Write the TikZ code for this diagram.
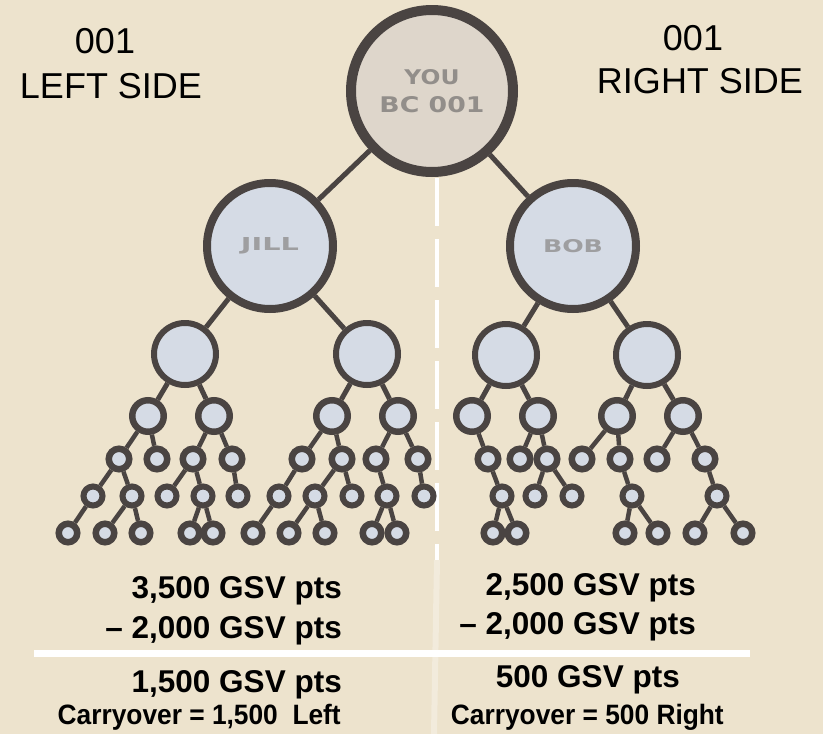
\documentclass[tikz,border=0pt]{standalone}
\usepackage{fontspec}
\setmainfont{Liberation Sans}
\newfontfamily\sumfont{Liberation Sans}
\newfontfamily\notefont[FakeStretch=0.94]{Liberation Sans}
\newfontfamily\badgefont{DejaVu Sans}
\usetikzlibrary{backgrounds}

\definecolor{paper}{RGB}{237,227,205}
\definecolor{ink}{RGB}{74,68,66}
\definecolor{bubble}{RGB}{213,219,229}
\definecolor{rootfill}{RGB}{222,214,203}
\definecolor{badge}{RGB}{146,142,138}
\definecolor{badgelight}{RGB}{158,158,160}

\tikzset{
  member/.style={circle, draw=ink, fill=bubble, inner sep=0pt},
  rootnode/.style={member, fill=rootfill, line width=10pt, minimum size=162pt,
    align=center, text=badge, font=\fontsize{10pt}{27.5pt}\selectfont},
  lvA/.style={member, line width=8pt, minimum size=126pt, text=badgelight},
  lvB/.style={member, line width=6pt, minimum size=62pt},
  lvC/.style={member, line width=6.5pt, minimum size=31.5pt},
  lvD/.style={member, line width=6.5pt, minimum size=20.5pt},
  lvE/.style={member, line width=6pt, minimum size=19pt},
  lvF/.style={member, line width=6.5pt, minimum size=18.5pt},
  link/.style={draw=ink, line width=5pt},
  twig/.style={draw=ink, line width=4.5pt},
  divider/.style={draw=white, line width=3.5pt, dash pattern=on 48pt off 13pt},
  sidehead/.style={inner sep=0pt, anchor=base, text=black,
    font=\fontsize{36pt}{40pt}\selectfont},
  tally/.style={inner sep=0pt, anchor=base east, text=black,
    font=\sumfont\bfseries\fontsize{31.5pt}{36pt}\selectfont},
  note/.style={inner sep=0pt, anchor=base east, text=black,
    font=\notefont\bfseries\fontsize{28pt}{32pt}\selectfont},
}

\newcommand{\badge}[3]{\resizebox{#1}{#2}{\badgefont\bfseries #3}}

\begin{document}
\begin{tikzpicture}[x=1pt, y=-1pt]
\useasboundingbox (0,0) rectangle (823,734);

% headings
\node[sidehead] (lnum)  at (105,53) {001};
\node[sidehead] (lside) at (111,98) {LEFT SIDE};
\node[sidehead] (rnum)  at (693,50) {001};
\node[sidehead] (rside) at (700,93) {RIGHT SIDE};

% top of the tree
\node[rootnode] (you) at (432,91) {\badge{55pt}{15pt}{YOU}\\\badge{105pt}{16pt}{BC 001}};
\node[lvA] (jill) at (270,246) {\badge{58pt}{13pt}{JILL}};
\node[lvA] (bob)  at (573,246) {\badge{60pt}{13pt}{BOB}};

% left leg, first branch
\node[lvB] (a)     at (185,354) {};
\node[lvC] (a1)    at (148,416) {};
\node[lvD] (a11)   at (119,459) {};
\node[lvE] (a111)  at (93,496) {};
\node[lvF] (a1111) at (68,533) {};
\node[lvE] (a112)  at (132,496) {};
\node[lvF] (a1121) at (105,533) {};
\node[lvF] (a1122) at (141,533) {};
\node[lvD] (a12)   at (157,459) {};
\node[lvC] (a2)    at (214,416) {};
\node[lvD] (a21)   at (193,459) {};
\node[lvE] (a211)  at (167,496) {};
\node[lvE] (a212)  at (203,496) {};
\node[lvF] (a2121) at (190,533) {};
\node[lvF] (a2122) at (213,533) {};
\node[lvD] (a22)   at (232,459) {};
\node[lvE] (a221)  at (238,496) {};

% left leg, second branch
\node[lvB] (b)     at (367,354) {};
\node[lvC] (b1)    at (332,416) {};
\node[lvD] (b11)   at (302,459) {};
\node[lvE] (b111)  at (279,496) {};
\node[lvF] (b1111) at (253,533) {};
\node[lvD] (b12)   at (342,459) {};
\node[lvE] (b121)  at (315,496) {};
\node[lvF] (b1211) at (289,533) {};
\node[lvF] (b1212) at (325,533) {};
\node[lvE] (b122)  at (352,496) {};
\node[lvC] (b2)    at (398,416) {};
\node[lvD] (b21)   at (376,459) {};
\node[lvE] (b211)  at (387,496) {};
\node[lvF] (b2111) at (372,533) {};
\node[lvF] (b2112) at (397,533) {};
\node[lvD] (b22)   at (418,459) {};
\node[lvE] (b221)  at (424,496) {};

% right leg, first branch
\node[lvB] (c)     at (506,355) {};
\node[lvC] (c1)    at (472,416) {};
\node[lvD] (c11)   at (488,459) {};
\node[lvE] (c111)  at (502,496) {};
\node[lvF] (c1111) at (493,533) {};
\node[lvF] (c1112) at (517,533) {};
\node[lvC] (c2)    at (538,416) {};
\node[lvD] (c21)   at (520,459) {};
\node[lvD] (c22)   at (547,459) {};
\node[lvE] (c221)  at (535,496) {};
\node[lvE] (c222)  at (572,496) {};

% right leg, second branch
\node[lvB] (d)     at (647,355) {};
\node[lvC] (d1)    at (617,416) {};
\node[lvD] (d11)   at (582,459) {};
\node[lvD] (d12)   at (620,459) {};
\node[lvE] (d121)  at (632,496) {};
\node[lvF] (d1211) at (625,533) {};
\node[lvF] (d1212) at (658,533) {};
\node[lvC] (d2)    at (683,416) {};
\node[lvD] (d21)   at (657,459) {};
\node[lvD] (d22)   at (705,459) {};
\node[lvE] (d221)  at (717,496) {};
\node[lvF] (d2211) at (695,533) {};
\node[lvF] (d2212) at (743,533) {};

% points for the dividers
\coordinate (splittop) at (437,178);
\coordinate (splitmid) at (437,560);
\coordinate (splitend) at (434,734);
\coordinate (ruleL) at (34,653.5);
\coordinate (ruleR) at (750,653.5);

\begin{pgfonlayer}{background}
  \fill[paper] (0,0) rectangle (823,734);
  \draw[divider] (splittop) -- (splitmid);
  \draw[draw=white, line width=6pt, opacity=0.3] (splitmid) -- (splitend);
  \foreach \p/\q in {you/jill, you/bob, jill/a, jill/b, bob/c, bob/d,
      a/a1, a/a2, b/b1, b/b2, c/c1, c/c2, d/d1, d/d2}
    \draw[link] (\p) -- (\q);
  \foreach \p/\q in {a1/a11, a1/a12, a11/a111, a11/a112, a111/a1111,
      a112/a1121, a112/a1122, a2/a21, a2/a22, a21/a211, a21/a212,
      a212/a2121, a212/a2122, a22/a221,
      b1/b11, b1/b12, b11/b111, b111/b1111, b12/b121, b12/b122,
      b121/b1211, b121/b1212, b2/b21, b2/b22, b21/b211,
      b211/b2111, b211/b2112, b22/b221,
      c1/c11, c11/c111, c111/c1111, c111/c1112, c2/c21, c2/c22,
      c22/c221, c22/c222,
      d1/d11, d1/d12, d12/d121, d121/d1211, d121/d1212,
      d2/d21, d2/d22, d22/d221, d221/d2211, d221/d2212}
    \draw[twig] (\p) -- (\q);
\end{pgfonlayer}

% totals
\draw[draw=white, line width=7pt] (ruleL) -- (ruleR);
\node[tally] (l1) at (342,598) {3,500 GSV pts};
\node[tally] (l2) at (342,638) {– 2,000 GSV pts};
\node[tally] (l3) at (342,692) {1,500 GSV pts};
\node[note]  (l4) at (341,724) {Carryover = 1,500\ \ Left};
\node[tally] (r1) at (696,595) {2,500 GSV pts};
\node[tally] (r2) at (696,634) {– 2,000 GSV pts};
\node[tally] (r3) at (680,687) {500 GSV pts};
\node[note]  (r4) at (724,724) {Carryover = 500 Right};
\end{tikzpicture}
\end{document}
